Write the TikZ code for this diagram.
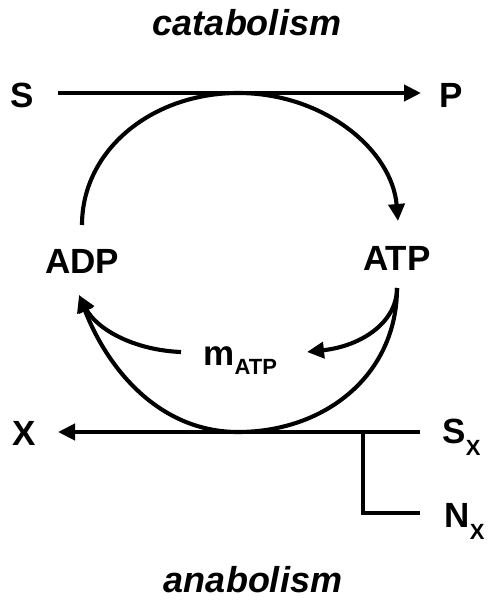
\documentclass[tikz,border=0pt]{standalone}
\usepackage{fontspec}
\setmainfont{Liberation Sans}
\usetikzlibrary{arrows.meta}
\begin{document}
\begin{tikzpicture}[x=1pt,y=-1pt,
  lbl/.style={font=\fontsize{35}{40}\selectfont\bfseries, inner sep=0pt, anchor=base},
  ttl/.style={font=\fontsize{36}{40}\selectfont\bfseries\itshape, inner sep=0pt, anchor=base},
  sub/.style={font=\fontsize{22}{26}\selectfont\bfseries, inner sep=0pt, anchor=base west},
  conn/.style={line width=4.1pt},
  arr/.style={conn, -{Triangle[length=17pt,width=16pt]}}]
\useasboundingbox (0,0) rectangle (489,602);
% texts
\node[ttl] (cat) at (247,36) {catabolism};
\node[ttl] (ana) at (253,592) {anabolism};
\node[lbl] (S) at (22,107) {S};
\node[lbl] (P) at (451,107) {P};
\node[lbl] (ADP) at (82,273) {ADP};
\node[lbl] (ATP) at (397,270) {ATP};
\node[lbl, anchor=base west] (m) at (203,365) {m};
\node[sub] (msub) at (m.base east) [yshift=-9pt] {ATP};
\node[lbl] (X) at (24,445) {X};
\node[lbl, anchor=base west] (Sx) at (442,443) {S};
\node[sub] (Sxsub) at (Sx.base east) [yshift=-12pt] {X};
\node[lbl, anchor=base west] (Nx) at (444,527) {N};
\node[sub] (Nxsub) at (Nx.base east) [yshift=-12pt] {X};
% anchor coordinates
\coordinate (sS) at (58,93);
\coordinate (eP) at (421,93);
\coordinate (sX) at (420,432);
\coordinate (eX) at (58,432);
\coordinate (br) at (363,432);
\coordinate (brN) at (363,513);
\coordinate (eN) at (420,513);
\coordinate (aADPtop) at (82,225);
\coordinate (aATPtop) at (398,221);
\coordinate (aATPbot) at (397,288);
\coordinate (aADPbot) at (79,295);
\coordinate (mR) at (307,352);
\coordinate (mL) at (181,352);
% catabolism line
\draw[arr] (sS) -- (eP);
% upper arc ADP -> ATP
\draw[arr] (aADPtop) .. controls (82,150) and (152,93) .. (238,93)
  .. controls (324,93) and (392,150) .. (aATPtop);
% lower arc ATP -> ADP
\draw[arr] (aATPbot) .. controls (397,375) and (325,432) .. (238,432)
  .. controls (160,432) and (108,370) .. (aADPbot);
% maintenance arrows
\draw[arr] (aATPbot) .. controls (397,322) and (362,346) .. (mR);
\draw[arr] (mL) .. controls (132,350) and (96,328) .. (aADPbot);
% anabolism line
\draw[arr] (sX) -- (eX);
\draw[conn] (br) -- (brN) -- (eN);
\end{tikzpicture}
\end{document}
